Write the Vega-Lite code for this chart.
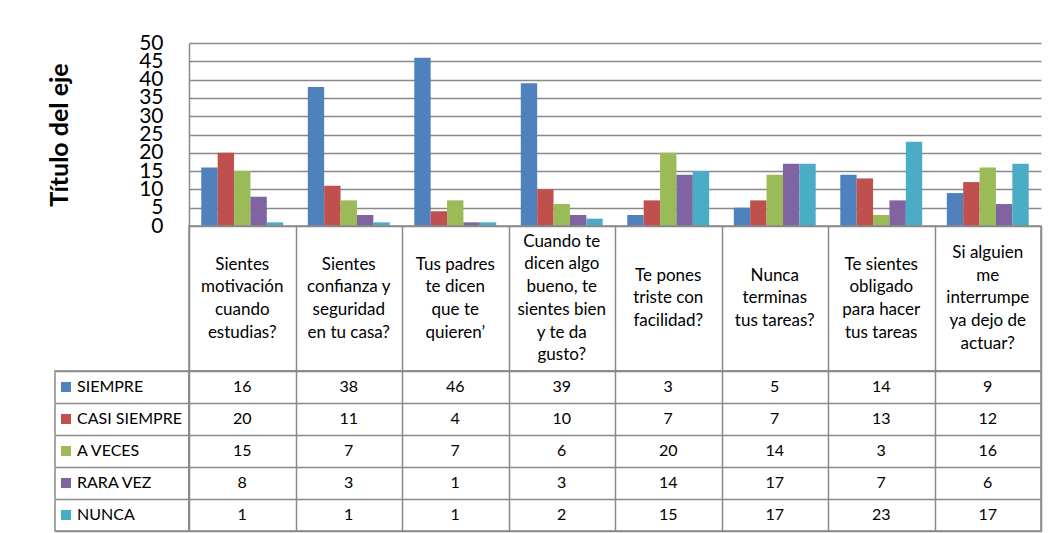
{
  "$schema": "https://vega.github.io/schema/vega-lite/v6.json",
  "autosize": {"type": "pad"},
  "padding": {"left": 47, "top": 32, "right": 14, "bottom": 2},
  "background": "white",
  "datasets": {
    "d": [
      {"cat": "Sientes\nmotivación\ncuando\nestudias?", "serie": "SIEMPRE", "val": 16},
      {"cat": "Sientes\nmotivación\ncuando\nestudias?", "serie": "CASI SIEMPRE", "val": 20},
      {"cat": "Sientes\nmotivación\ncuando\nestudias?", "serie": "A VECES", "val": 15},
      {"cat": "Sientes\nmotivación\ncuando\nestudias?", "serie": "RARA VEZ", "val": 8},
      {"cat": "Sientes\nmotivación\ncuando\nestudias?", "serie": "NUNCA", "val": 1},
      {"cat": "Sientes\nconfianza y\nseguridad\nen tu casa?", "serie": "SIEMPRE", "val": 38},
      {"cat": "Sientes\nconfianza y\nseguridad\nen tu casa?", "serie": "CASI SIEMPRE", "val": 11},
      {"cat": "Sientes\nconfianza y\nseguridad\nen tu casa?", "serie": "A VECES", "val": 7},
      {"cat": "Sientes\nconfianza y\nseguridad\nen tu casa?", "serie": "RARA VEZ", "val": 3},
      {"cat": "Sientes\nconfianza y\nseguridad\nen tu casa?", "serie": "NUNCA", "val": 1},
      {"cat": "Tus padres\nte dicen\nque te\nquieren’", "serie": "SIEMPRE", "val": 46},
      {"cat": "Tus padres\nte dicen\nque te\nquieren’", "serie": "CASI SIEMPRE", "val": 4},
      {"cat": "Tus padres\nte dicen\nque te\nquieren’", "serie": "A VECES", "val": 7},
      {"cat": "Tus padres\nte dicen\nque te\nquieren’", "serie": "RARA VEZ", "val": 1},
      {"cat": "Tus padres\nte dicen\nque te\nquieren’", "serie": "NUNCA", "val": 1},
      {"cat": "Cuando te\ndicen algo\nbueno, te\nsientes bien\ny te da\ngusto?", "serie": "SIEMPRE", "val": 39},
      {"cat": "Cuando te\ndicen algo\nbueno, te\nsientes bien\ny te da\ngusto?", "serie": "CASI SIEMPRE", "val": 10},
      {"cat": "Cuando te\ndicen algo\nbueno, te\nsientes bien\ny te da\ngusto?", "serie": "A VECES", "val": 6},
      {"cat": "Cuando te\ndicen algo\nbueno, te\nsientes bien\ny te da\ngusto?", "serie": "RARA VEZ", "val": 3},
      {"cat": "Cuando te\ndicen algo\nbueno, te\nsientes bien\ny te da\ngusto?", "serie": "NUNCA", "val": 2},
      {"cat": "Te pones\ntriste con\nfacilidad?", "serie": "SIEMPRE", "val": 3},
      {"cat": "Te pones\ntriste con\nfacilidad?", "serie": "CASI SIEMPRE", "val": 7},
      {"cat": "Te pones\ntriste con\nfacilidad?", "serie": "A VECES", "val": 20},
      {"cat": "Te pones\ntriste con\nfacilidad?", "serie": "RARA VEZ", "val": 14},
      {"cat": "Te pones\ntriste con\nfacilidad?", "serie": "NUNCA", "val": 15},
      {"cat": "Nunca\nterminas\ntus tareas?", "serie": "SIEMPRE", "val": 5},
      {"cat": "Nunca\nterminas\ntus tareas?", "serie": "CASI SIEMPRE", "val": 7},
      {"cat": "Nunca\nterminas\ntus tareas?", "serie": "A VECES", "val": 14},
      {"cat": "Nunca\nterminas\ntus tareas?", "serie": "RARA VEZ", "val": 17},
      {"cat": "Nunca\nterminas\ntus tareas?", "serie": "NUNCA", "val": 17},
      {"cat": "Te sientes\nobligado\npara hacer\ntus tareas", "serie": "SIEMPRE", "val": 14},
      {"cat": "Te sientes\nobligado\npara hacer\ntus tareas", "serie": "CASI SIEMPRE", "val": 13},
      {"cat": "Te sientes\nobligado\npara hacer\ntus tareas", "serie": "A VECES", "val": 3},
      {"cat": "Te sientes\nobligado\npara hacer\ntus tareas", "serie": "RARA VEZ", "val": 7},
      {"cat": "Te sientes\nobligado\npara hacer\ntus tareas", "serie": "NUNCA", "val": 23},
      {"cat": "Si alguien\nme\ninterrumpe\nya dejo de\nactuar?", "serie": "SIEMPRE", "val": 9},
      {"cat": "Si alguien\nme\ninterrumpe\nya dejo de\nactuar?", "serie": "CASI SIEMPRE", "val": 12},
      {"cat": "Si alguien\nme\ninterrumpe\nya dejo de\nactuar?", "serie": "A VECES", "val": 16},
      {"cat": "Si alguien\nme\ninterrumpe\nya dejo de\nactuar?", "serie": "RARA VEZ", "val": 6},
      {"cat": "Si alguien\nme\ninterrumpe\nya dejo de\nactuar?", "serie": "NUNCA", "val": 17}
    ]
  },
  "columns": 2,
  "spacing": 0,
  "bounds": "flush",
  "resolve": {"scale": {"x": "independent", "y": "independent"}},
  "config": {
    "font": "Lato",
    "view": {"stroke": "#898989", "strokeWidth": 1.5},
    "axis": {"gridColor": "#898989", "gridWidth": 1.5, "gridOpacity": 1, "domainColor": "#898989", "domainWidth": 1.5},
    "text": {"font": "Lato", "fontSize": 16, "color": "#000000"}
  },
  "concat": [
    {
      "data": {"name": "d"},
      "width": 134, "height": 183,
      "view": {"stroke": null},
      "mark": {"type": "text", "text": ""}
    },
    {
      "data": {"name": "d"},
      "width": 852, "height": 183,
      "view": {"stroke": null},
      "mark": {"type": "bar"},
      "encoding": {
        "x": {"field": "cat", "type": "nominal", "sort": null, "scale": {"paddingInner": 0, "paddingOuter": 0}, "axis": null},
        "xOffset": {"field": "serie", "type": "nominal", "scale": {"domain": ["SIEMPRE", "CASI SIEMPRE", "A VECES", "RARA VEZ", "NUNCA"], "paddingInner": 0, "paddingOuter": 0.75}},
        "y": {
          "field": "val", "type": "quantitative",
          "scale": {"domain": [0, 50], "nice": false},
          "axis": {
            "title": "Título del eje", "values": [0, 5, 10, 15, 20, 25, 30, 35, 40, 45, 50],
            "grid": true, "ticks": false, "labelOverlap": false, "labelFlush": false,
            "labelFont": "Lato", "labelFontSize": 21, "labelColor": "#000000", "labelPadding": 26,
            "titleFont": "Lato", "titleFontSize": 25, "titleFontWeight": "bold", "titleColor": "#000000", "titlePadding": 66
          }
        },
        "color": {
          "field": "serie", "type": "nominal",
          "scale": {"domain": ["SIEMPRE", "CASI SIEMPRE", "A VECES", "RARA VEZ", "NUNCA"], "range": ["#4F81BD", "#C0504D", "#9BBB59", "#8064A2", "#4BACC6"]},
          "legend": {
            "orient": "none", "legendX": 3, "legendY": 336, "title": null,
            "symbolType": "square", "symbolSize": 100, "symbolStrokeWidth": 0,
            "labelFont": "Lato", "labelFontSize": 16, "labelColor": "#000000", "labelOffset": 3, "rowPadding": 16
          }
        }
      }
    },
    {
      "data": {"name": "d"},
      "width": 134, "height": 145,
      "view": {"stroke": null},
      "mark": {"type": "text", "text": ""}
    },
    {
      "data": {"name": "d"},
      "width": 852, "height": 145,
      "encoding": {
        "x": {"field": "cat", "type": "nominal", "sort": null, "scale": {"paddingInner": 0, "paddingOuter": 0}, "axis": {"grid": true, "tickBand": "extent", "labels": false, "ticks": false, "domain": false, "title": null}},
        "text": {"field": "cat"}
      },
      "layer": [
        {
          "transform": [{"filter": "datum.serie == 'SIEMPRE'"}],
          "mark": {"type": "text", "opacity": 0, "lineBreak": "\n", "fontSize": 17}
        },
        {
          "transform": [{"filter": "datum.serie == 'SIEMPRE' && length(split(datum.cat, '\\n')) == 3"}],
          "mark": {"type": "text", "lineBreak": "\n", "lineHeight": 22.7, "fontSize": 17, "baseline": "middle", "align": "center", "dy": -22.7}
        },
        {
          "transform": [{"filter": "datum.serie == 'SIEMPRE' && length(split(datum.cat, '\\n')) == 4"}],
          "mark": {"type": "text", "lineBreak": "\n", "lineHeight": 22.7, "fontSize": 17, "baseline": "middle", "align": "center", "dy": -34}
        },
        {
          "transform": [{"filter": "datum.serie == 'SIEMPRE' && length(split(datum.cat, '\\n')) == 5"}],
          "mark": {"type": "text", "lineBreak": "\n", "lineHeight": 22.7, "fontSize": 17, "baseline": "middle", "align": "center", "dy": -45.4}
        },
        {
          "transform": [{"filter": "datum.serie == 'SIEMPRE' && length(split(datum.cat, '\\n')) == 6"}],
          "mark": {"type": "text", "lineBreak": "\n", "lineHeight": 22.7, "fontSize": 17, "baseline": "middle", "align": "center", "dy": -56.7}
        }
      ]
    },
    {
      "data": {"name": "d"},
      "width": 134, "height": 160,
      "mark": {"type": "rect", "opacity": 0},
      "encoding": {
        "y": {"field": "serie", "type": "nominal", "scale": {"domain": ["SIEMPRE", "CASI SIEMPRE", "A VECES", "RARA VEZ", "NUNCA"], "paddingInner": 0, "paddingOuter": 0}, "axis": {"grid": true, "tickBand": "extent", "labels": false, "ticks": false, "domain": false, "title": null}}
      }
    },
    {
      "data": {"name": "d"},
      "width": 852, "height": 160,
      "mark": {"type": "text", "fontSize": 16, "baseline": "middle", "align": "center"},
      "encoding": {
        "x": {"field": "cat", "type": "nominal", "sort": null, "scale": {"paddingInner": 0, "paddingOuter": 0}, "axis": {"grid": true, "tickBand": "extent", "labels": false, "ticks": false, "domain": false, "title": null}},
        "y": {"field": "serie", "type": "nominal", "scale": {"domain": ["SIEMPRE", "CASI SIEMPRE", "A VECES", "RARA VEZ", "NUNCA"], "paddingInner": 0, "paddingOuter": 0}, "axis": {"grid": true, "tickBand": "extent", "labels": false, "ticks": false, "domain": false, "title": null}},
        "text": {"field": "val", "type": "quantitative"}
      }
    }
  ]
}
